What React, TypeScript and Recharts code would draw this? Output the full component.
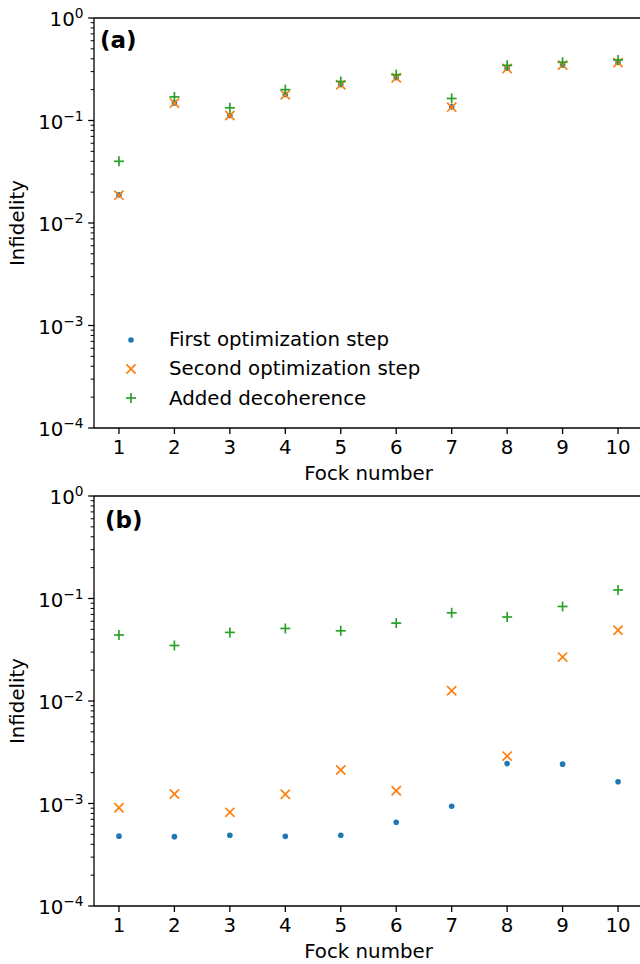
import { ScatterChart, Scatter, XAxis, YAxis, ReferenceLine, Legend } from 'recharts'

const FOCK = [1, 2, 3, 4, 5, 6, 7, 8, 9, 10]

// panel (a)
const A_FIRST = [0.0188, 0.148, 0.112, 0.179, 0.224, 0.262, 0.136, 0.323, 0.348, 0.368]
const A_SECOND = [0.0187, 0.148, 0.112, 0.178, 0.223, 0.261, 0.135, 0.322, 0.347, 0.367]
const A_DECOH = [0.04, 0.17, 0.133, 0.2, 0.24, 0.28, 0.164, 0.345, 0.37, 0.39]

// panel (b)
const B_FIRST = [0.00048, 0.000475, 0.00049, 0.000478, 0.00049, 0.000656, 0.00094, 0.00245, 0.00242, 0.00163]
const B_SECOND = [0.00091, 0.00124, 0.00082, 0.00123, 0.00212, 0.00133, 0.0126, 0.0029, 0.0268, 0.049]
const B_DECOH = [0.044, 0.0348, 0.0467, 0.051, 0.0484, 0.0575, 0.0725, 0.066, 0.0836, 0.121]

const Y_MAJOR = [1e-4, 1e-3, 1e-2, 1e-1, 1]
const Y_EXP = ['−4', '−3', '−2', '−1', '0']
const Y_TICKS = Y_MAJOR.flatMap((m, i) =>
  i === Y_MAJOR.length - 1 ? [m] : [1, 2, 3, 4, 5, 6, 7, 8, 9].map((k) => k * m),
)

const SERIES_NAMES = ['First optimization step', 'Second optimization step', 'Added decoherence']
const BLUE = '#1f77b4'
const ORANGE = '#ff7f0e'
const GREEN = '#2ca02c'
const FONT = 'DejaVu Sans'
const FS = 19.8

const rows = (vals: number[]) => FOCK.map((f, i) => ({ fock: f, val: vals[i] }))

const DotMark = ({ cx, cy }: any) => <circle cx={cx} cy={cy} r={2.8} fill={BLUE} />
const CrossMark = ({ cx, cy }: any) => (
  <g stroke={ORANGE} strokeWidth={1.7}>
    <line x1={cx - 4.6} y1={cy - 4.6} x2={cx + 4.6} y2={cy + 4.6} />
    <line x1={cx - 4.6} y1={cy + 4.6} x2={cx + 4.6} y2={cy - 4.6} />
  </g>
)
const PlusMark = ({ cx, cy }: any) => (
  <g stroke={GREEN} strokeWidth={1.7}>
    <line x1={cx - 5} y1={cy} x2={cx + 5} y2={cy} />
    <line x1={cx} y1={cy - 5} x2={cx} y2={cy + 5} />
  </g>
)

const YTick = ({ x, y, payload }: any) => {
  const v = payload.value
  const idx = Y_MAJOR.findIndex((m) => Math.abs(m - v) / m < 1e-9)
  if (idx < 0) {
    return <line x1={x} x2={x - 3.4} y1={y} y2={y} stroke="#000" strokeWidth={1} />
  }
  return (
    <g>
      <line x1={x} x2={x - 5.8} y1={y} y2={y} stroke="#000" strokeWidth={1.3} />
      <text x={x - 10.5} y={y + 8.2} textAnchor="end" fontSize={FS} fill="#000" fontFamily={FONT}>
        10
        <tspan dy={-7.8} fontSize={13.7}>{Y_EXP[idx]}</tspan>
      </text>
    </g>
  )
}

const legendContent = () => {
  const marks = [
    <circle key="d" cx={13} cy={13} r={2.8} fill={BLUE} />,
    <CrossMark key="x" cx={13} cy={13} />,
    <PlusMark key="p" cx={13} cy={13} />,
  ]
  return (
    <div style={{ fontFamily: FONT, fontSize: FS, color: '#000' }}>
      {SERIES_NAMES.map((name, i) => (
        <div key={name} style={{ display: 'flex', alignItems: 'center', height: 29.3 }}>
          <svg width={26} height={26} style={{ marginRight: 25 }}>{marks[i]}</svg>
          <span style={{ whiteSpace: 'nowrap' }}>{name}</span>
        </div>
      ))}
    </div>
  )
}

interface PanelProps {
  first: number[]
  second: number[]
  decoh: number[]
  tag: string
  tagX: number
  tagY: number
  top: number
  height: number
  marginTop: number
  xAxisHeight: number
  legend?: boolean
}

function Panel({ first, second, decoh, tag, tagX, tagY, top, height, marginTop, xAxisHeight, legend }: PanelProps) {
  return (
    <div style={{ position: 'absolute', left: 0, top, width: 660, height }}>
      <ScatterChart
        width={660}
        height={height}
        margin={{ top: marginTop, right: 17, left: 0, bottom: 0 }}
        style={{ fontFamily: FONT }}
      >
        <XAxis
          type="number"
          dataKey="fock"
          domain={[0.55, 10.45]}
          allowDataOverflow
          ticks={FOCK}
          interval={0}
          height={xAxisHeight}
          tickSize={6}
          tickMargin={6}
          tick={{ fill: '#000', fontSize: FS }}
          tickLine={{ stroke: '#000', strokeWidth: 1.3 }}
          axisLine={{ stroke: '#000', strokeWidth: 1.3 }}
          label={(p: any) => (
            <text
              x={p.viewBox.x + p.viewBox.width / 2}
              y={p.viewBox.y + 52}
              textAnchor="middle"
              fontSize={FS}
              fill="#000"
              fontFamily={FONT}
            >
              Fock number
            </text>
          )}
        />
        <YAxis
          type="number"
          dataKey="val"
          scale="log"
          domain={[1e-4, 1]}
          allowDataOverflow
          ticks={Y_TICKS}
          interval={0}
          width={94}
          tickSize={0}
          tickMargin={0}
          tick={(p: any) => <YTick {...p} />}
          axisLine={{ stroke: '#000', strokeWidth: 1.3 }}
          label={(p: any) => {
            const cy = p.viewBox.y + p.viewBox.height / 2
            return (
              <text
                transform={`translate(19,${cy}) rotate(-90)`}
                textAnchor="middle"
                dy="0.26em"
                fontSize={FS}
                fill="#000"
                fontFamily={FONT}
              >
                Infidelity
              </text>
            )
          }}
        />
        <ReferenceLine y={1} stroke="#000" strokeWidth={1.3} />
        <Scatter name={SERIES_NAMES[0]} data={rows(first)} shape={DotMark} isAnimationActive={false} />
        <Scatter name={SERIES_NAMES[1]} data={rows(second)} shape={CrossMark} isAnimationActive={false} />
        <Scatter name={SERIES_NAMES[2]} data={rows(decoh)} shape={PlusMark} isAnimationActive={false} />
        {legend && (
          <Legend
            layout="horizontal"
            align="center"
            verticalAlign="middle"
            content={legendContent}
            wrapperStyle={{ position: 'absolute', left: 118, top: 325, width: 'auto', height: 'auto' }}
          />
        )}
      </ScatterChart>
      <div
        style={{
          position: 'absolute',
          left: tagX,
          top: tagY,
          fontFamily: FONT,
          fontWeight: 'bold',
          fontSize: 23,
          lineHeight: '27px',
          color: '#000',
        }}
      >
        {tag}
      </div>
    </div>
  )
}

export default function App() {
  return (
    <div style={{ position: 'absolute', left: 0, top: 0, width: 640, height: 964, overflow: 'hidden', background: '#fff' }}>
      <Panel
        first={A_FIRST}
        second={A_SECOND}
        decoh={A_DECOH}
        tag="(a)"
        tagX={100}
        tagY={27}
        top={0}
        height={490}
        marginTop={18}
        xAxisHeight={62}
        legend
      />
      <Panel
        first={B_FIRST}
        second={B_SECOND}
        decoh={B_DECOH}
        tag="(b)"
        tagX={105}
        tagY={507 - 482}
        top={482}
        height={482}
        marginTop={14}
        xAxisHeight={58}
      />
    </div>
  )
}
